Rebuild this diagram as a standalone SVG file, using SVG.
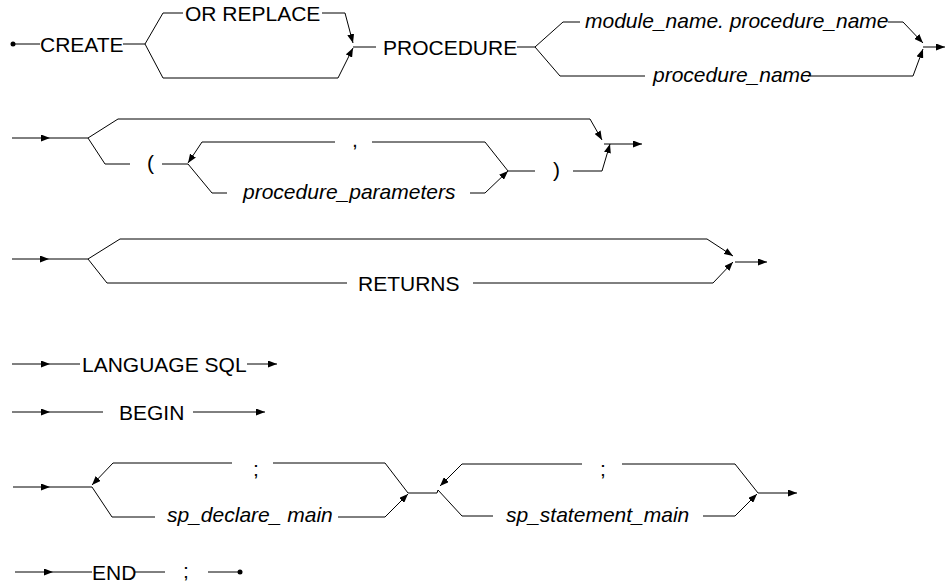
<svg xmlns="http://www.w3.org/2000/svg" width="947" height="588" viewBox="0 0 947 588">
<defs>
<marker id="ah" markerWidth="9" markerHeight="7" refX="9" refY="3.5" orient="auto" markerUnits="userSpaceOnUse">
<path d="M0,0 L9,3.5 L0,7 z" fill="#000"/>
</marker>
<style>
.l{fill:none;stroke:#000;stroke-width:1}
.a{fill:none;stroke:#000;stroke-width:1;marker-end:url(#ah)}
text{font-family:"Liberation Sans",Arial,sans-serif;font-size:21px;fill:#000}
.i{font-style:italic}
.d{fill:#000}
</style>
</defs>
<rect width="947" height="588" fill="#fff"/>
<g id="connectors">
<!-- row 1 -->
<circle class="d" cx="13" cy="44" r="2.5"/>
<path class="l" d="M15,44 H40 M123,44 H145"/>
<path class="l" d="M145,44 L163,13 H183 M322,13 H345"/>
<path class="a" d="M345,13 L353,43"/>
<path class="l" d="M145,44 L163,78 H338"/>
<path class="a" d="M338,78 L353,48"/>
<path class="l" d="M353,47 H376 M517,47 H535"/>
<path class="l" d="M535,47 L563,22 H580 M888,22 H903"/>
<path class="a" d="M903,22 L923,43"/>
<path class="l" d="M535,47 L560,76 H645 M808,76 H913"/>
<path class="a" d="M913,76 L923,49"/>
<path class="a" d="M923,47 H945"/>
<!-- row 2 -->
<path class="a" d="M12,138 H50"/>
<path class="l" d="M50,138 H88"/>
<path class="l" d="M88,138 L118,119 H590"/>
<path class="a" d="M590,119 L602,140"/>
<path class="l" d="M88,138 L105,164 H130 M162,164 H188"/>
<path class="l" d="M508,171 L485,142 H372 M335,142 H202"/>
<path class="a" d="M202,142 L188,163"/>
<path class="l" d="M188,164 L212,193 H227 M470,193 H485"/>
<path class="a" d="M485,193 L508,171"/>
<path class="l" d="M508,171 H535 M573,171 H602"/>
<path class="a" d="M602,171 L610,144"/>
<path class="a" d="M604,144 H642"/>
<!-- row 3 -->
<path class="a" d="M12,259 H49"/>
<path class="l" d="M49,259 H88"/>
<path class="l" d="M88,259 L120,239 H707"/>
<path class="a" d="M707,239 L733,256"/>
<path class="l" d="M88,259 L107,283 H347 M473,283 H713"/>
<path class="a" d="M713,283 L733,262"/>
<path class="a" d="M735,262 H767"/>
<!-- row 4 -->
<path class="a" d="M12,364 H50"/>
<path class="l" d="M50,364 H80"/>
<path class="a" d="M247,364 H277"/>
<!-- row 5 -->
<path class="a" d="M12,412 H50"/>
<path class="l" d="M50,412 H103"/>
<path class="a" d="M193,412 H265"/>
<!-- row 7 -->
<path class="a" d="M13,487 H50"/>
<path class="l" d="M50,487 H92"/>
<path class="l" d="M232,463 H113"/>
<path class="a" d="M113,463 L92,485"/>
<path class="l" d="M273,463 H385 L408,493"/>
<path class="l" d="M92,487 L112,517 H155 M338,517 H385"/>
<path class="a" d="M385,517 L408,494"/>
<path class="l" d="M408,493 H437 L438,490"/>
<path class="l" d="M582,464 H462"/>
<path class="a" d="M462,464 L440,486"/>
<path class="l" d="M622,464 H735 L758,493"/>
<path class="l" d="M438,490 L462,516 H493 M703,516 H735"/>
<path class="a" d="M735,516 L757,494"/>
<path class="a" d="M758,493 H797"/>
<!-- row 8 -->
<path class="a" d="M15,572 H53"/>
<path class="l" d="M53,572 H92 M135,572 H165 M208,572 H238"/>
<circle class="d" cx="240" cy="572" r="2.5"/>
</g>
<g id="n-create"><text x="40" y="51.5">CREATE</text></g>
<g id="n-orreplace"><text x="185" y="20.5">OR REPLACE</text></g>
<g id="n-procedure"><text x="383" y="54.5">PROCEDURE</text></g>
<g id="n-modproc"><text class="i" x="585" y="27.5">module_name. procedure_name</text></g>
<g id="n-procname"><text class="i" x="653" y="81.5">procedure_name</text></g>
<g id="n-lparen"><text x="147" y="170">(</text></g>
<g id="n-comma"><text x="352" y="147">,</text></g>
<g id="n-params"><text class="i" x="243" y="199">procedure_parameters</text></g>
<g id="n-rparen"><text x="553" y="177">)</text></g>
<g id="n-returns"><text x="358" y="290.5">RETURNS</text></g>
<g id="n-language"><text x="82" y="371.5">LANGUAGE SQL</text></g>
<g id="n-begin"><text x="119" y="419.5">BEGIN</text></g>
<g id="n-semi1"><text x="253" y="476">;</text></g>
<g id="n-declare"><text class="i" x="167" y="522">sp_declare_ main</text></g>
<g id="n-semi2"><text x="600" y="476">;</text></g>
<g id="n-statement"><text class="i" x="506" y="521.5">sp_statement_main</text></g>
<g id="n-end"><text x="92" y="579.5">END</text></g>
<g id="n-semi3"><text x="183" y="578">;</text></g>
</svg>
